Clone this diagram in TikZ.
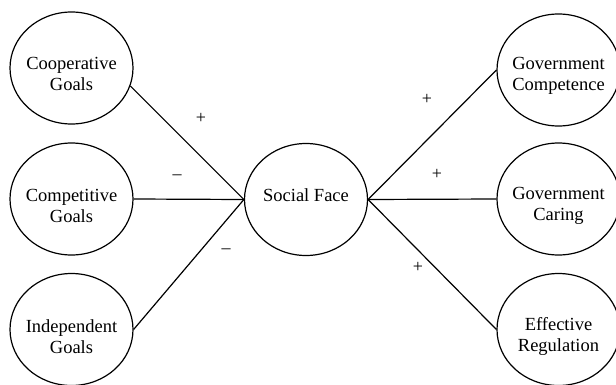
\documentclass[tikz,border=0pt]{standalone}
\usepackage{fontspec}
\setmainfont{Liberation Serif}
\usetikzlibrary{shapes.geometric}
\begin{document}
\begin{tikzpicture}[x=1pt,y=1pt,
  construct/.style={draw, ellipse, line width=1.2pt, inner sep=0pt,
    minimum width=123pt, minimum height=112pt},
  lbl/.style={align=center, font=\fontsize{18.5}{21}\selectfont, inner sep=0pt},
  link/.style={line width=1.2pt},
  sign/.style={font=\fontsize{18}{20}\selectfont, inner sep=0pt}]
\useasboundingbox (0,0) rectangle (616,384);
\clip (0,0) rectangle (616,384);

% antecedents (left column)
\node[construct, label={[lbl,yshift=-6pt]center:Cooperative\\Goals}] (coop) at (71.5,316) {};
\node[construct, label={[lbl,yshift=-7pt]center:Competitive\\Goals}] (comp) at (71.5,185) {};
\node[construct, label={[lbl,yshift=-7pt]center:Independent\\Goals}] (indep) at (71.5,54.5) {};

% mediator
\node[construct, label={[lbl,yshift=4pt]center:Social Face}] (face) at (306,184.5) {};

% outcomes (right column)
\node[construct, label={[lbl,yshift=-6pt]center:Government\\Competence}] (gcomp) at (558.5,314) {};
\node[construct, label={[lbl,yshift=-7pt]center:Government\\Caring}] (gcar) at (558.5,185) {};
\node[construct, label={[lbl,yshift=-7pt]center:Effective\\Regulation}] (eff) at (558.5,54.5) {};

% paths
\draw[link] (coop.-17) -- (face.west);
\draw[link] (comp.east) -- (face.west);
\draw[link] (indep.east) -- (face.west);
\draw[link] (face.east) -- (gcomp.west);
\draw[link] (face.east) -- (gcar.west);
\draw[link] (face.east) -- (eff.west);

% signs of the paths
\node[sign] (s1) at (201,266) {+};
\node[sign] (s2) at (177,207) {–};
\node[sign] (s3) at (226,133) {–};
\node[sign] (s4) at (427,285) {+};
\node[sign] (s5) at (437,210) {+};
\node[sign] (s6) at (418,117) {+};
\end{tikzpicture}
\end{document}
